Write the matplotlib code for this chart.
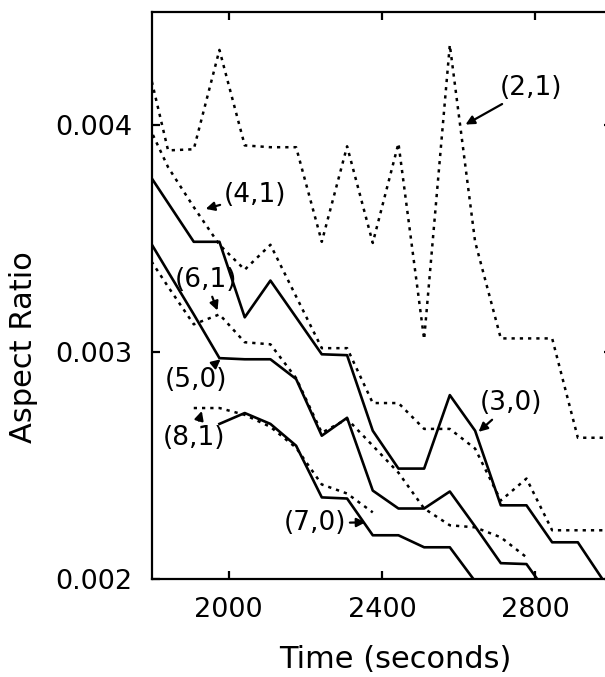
import numpy as np
import matplotlib
matplotlib.use("Agg")
import matplotlib.pyplot as plt

nan = np.nan

# time samples (seconds)
time_s = [1775, 1842, 1909, 1976, 2042, 2109, 2176, 2243, 2309, 2376,
          2443, 2510, 2577, 2643, 2710, 2777, 2844, 2911, 2977, 3044]

# dotted series (m,1)
ar_2_1 = [0.004370, 0.003890, 0.003895, 0.004333, 0.003912, 0.003904, 0.003904,
          0.003487, 0.003908, 0.003482, 0.003921, 0.003057, 0.004355, 0.003487,
          0.003061, 0.003061, 0.003061, 0.002623, 0.002623, 0.002623]
ar_4_1 = [0.004057, 0.003816, 0.003640, 0.003474, 0.003364, 0.003474, 0.003246,
          0.003018, 0.003018, 0.002776, 0.002776, 0.002662, 0.002662, 0.002575,
          0.002346, 0.002443, 0.002215, 0.002215, 0.002215, 0.002215]
ar_6_1 = [0.003461, 0.003289, 0.003123, 0.003167, 0.003044, 0.003035, 0.002886,
          0.002645, 0.002706, 0.002588, 0.002469, 0.002311, 0.002237, 0.002228,
          0.002184, 0.002096, nan, nan, nan, nan]
ar_8_1 = [nan, nan, 0.002754, 0.002754, 0.002724, 0.002671, 0.002579, 0.002417,
          0.002377, 0.002294, nan, nan, nan, nan, nan, nan, nan, nan, nan, nan]

# solid series (m,0)
ar_3_0 = [0.003829, 0.003658, 0.003487, 0.003487, 0.003154, 0.003316, 0.003154,
          0.002991, 0.002987, 0.002654, 0.002487, 0.002487, 0.002811, 0.002654,
          0.002325, 0.002325, 0.002162, 0.002162, 0.001995, nan]
ar_5_0 = [0.003544, 0.003355, 0.003167, 0.002974, 0.002969, 0.002969, 0.002882,
          0.002632, 0.002711, 0.002390, 0.002311, 0.002311, 0.002386, 0.002232,
          0.002070, 0.002066, 0.001908, nan, nan, nan]
ar_7_0 = [nan, nan, nan, 0.002684, 0.002732, 0.002684, 0.002588, 0.002360,
          0.002355, 0.002193, 0.002193, 0.002140, 0.002140, 0.001990,
          nan, nan, nan, nan, nan, nan]

# label text, text position, arrow tip
labels = ["(2,1)", "(4,1)", "(6,1)", "(5,0)", "(8,1)", "(3,0)", "(7,0)"]
label_xy = [(2790, 0.004167), (2070, 0.003693), (1940, 0.003320), (1914, 0.002877),
            (1909, 0.002623), (2736, 0.002776), (2224, 0.002246)]
arrow_xy = [(2618, 0.004004), (1940, 0.003632), (1971, 0.003184), (1979, 0.002969),
            (1930, 0.002741), (2652, 0.002649), (2357, 0.002250)]

plt.rcParams["font.family"] = "DejaVu Sans"

fig = plt.figure(figsize=(6.05, 6.77), dpi=100)
ax = fig.add_axes([0.2512, 0.1447, 0.7603, 0.8375])

dot = (0, (1.3, 2.0))
for ys in [ar_2_1, ar_4_1, ar_6_1, ar_8_1]:
    ax.plot(time_s, ys, color="black", lw=1.8, linestyle=dot)
for ys in [ar_3_0, ar_5_0, ar_7_0]:
    ax.plot(time_s, ys, color="black", lw=1.9)

for txt, xy_t, xy_a in zip(labels, label_xy, arrow_xy):
    ax.annotate(txt, xy=xy_a, xytext=xy_t, ha="center", va="center", fontsize=19,
                arrowprops=dict(arrowstyle="-|>", color="black", lw=1.6,
                                mutation_scale=13, shrinkA=1, shrinkB=0))

ax.set_xlim(1800, 3000)
ax.set_ylim(0.002, 0.0045)
ax.set_xticks([2000, 2400, 2800])
ax.set_yticks([0.002, 0.003, 0.004])
ax.set_yticklabels(["0.002", "0.003", "0.004"])
ax.tick_params(direction="in", length=6, width=1.6, top=True, right=True,
               labelsize=19.5)
ax.tick_params(axis="y", pad=14)
ax.tick_params(axis="x", pad=13)
for sp in ax.spines.values():
    sp.set_linewidth(1.6)

ax.set_xlabel("Time (seconds)", fontsize=22)
ax.set_ylabel("Aspect Ratio", fontsize=22)
ax.xaxis.set_label_coords(0.528, -0.116)
ax.yaxis.set_label_coords(-0.248, 0.409)

fig.savefig("out.png", dpi=100)
